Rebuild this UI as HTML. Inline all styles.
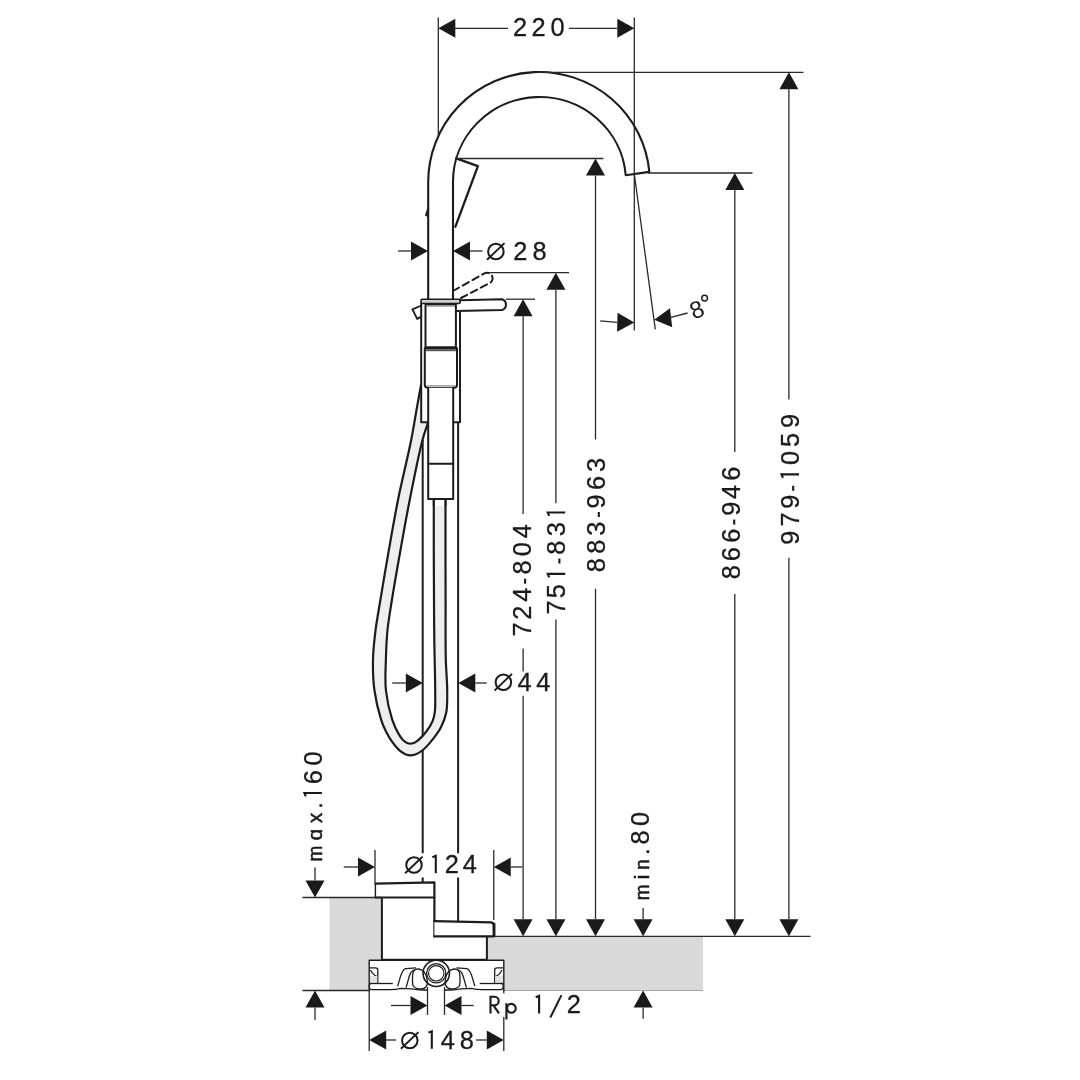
<!DOCTYPE html>
<html><head><meta charset="utf-8"><style>
html,body{margin:0;padding:0;background:#fff;width:1080px;height:1080px;overflow:hidden}
svg{display:block;will-change:transform}
text{font-family:"Liberation Sans",sans-serif;fill:#1a1a1a}
</style></head><body>
<svg width="1080" height="1080" viewBox="0 0 1080 1080">
<rect width="1080" height="1080" fill="#fff"/>
<rect x="329.5" y="897.5" width="52.3" height="93" fill="#d9d9d9"/>
<rect x="487.5" y="936.3" width="215.5" height="54.2" fill="#d9d9d9"/>
<rect x="360" y="960" width="140" height="30.5" fill="#d9d9d9"/>
<path d="M428.2,300 L428.2,182.0 A110.8,110.0 0 0 1 649.33,171.89 L625.72,175.21 A86.5,85.0 0 0 0 453,182.0 L453,300" fill="none" stroke="#1c1c1c" stroke-width="2.1" stroke-linejoin="round" stroke-linecap="round" />
<path d="M456.2,158.3 L477.9,166.2 L455.4,226.7" fill="none" stroke="#1c1c1c" stroke-width="2.3" stroke-linejoin="round" stroke-linecap="round" />
<polygon points="428.5,204.5 424.9,215.6 428.5,217.2" fill="#1c1c1c"/>
<line x1="422.70" y1="440.00" x2="422.70" y2="853.30" stroke="#1c1c1c" stroke-width="2.0" />
<line x1="458.10" y1="422.20" x2="458.10" y2="853.30" stroke="#1c1c1c" stroke-width="2.0" />
<path d="M421.20,384.00 C419.63,392.67 418.10,401.02 416.50,410.00 C414.78,419.64 413.52,428.31 411.20,440.00 C407.91,456.60 401.94,480.40 398.00,500.00 C394.24,518.70 391.22,536.66 388.00,555.00 C384.79,573.32 380.94,596.29 378.70,610.00 C377.36,618.18 376.49,622.37 375.60,629.60 C374.51,638.46 373.21,649.31 373.00,659.30 C372.79,669.44 373.04,679.92 374.40,690.00 C375.75,700.02 378.70,712.02 381.10,719.60 C382.66,724.54 384.11,727.73 386.00,731.50 C387.83,735.15 389.89,738.71 392.20,741.90 C394.41,744.96 396.71,748.06 399.50,750.30 C402.17,752.45 405.55,754.65 408.50,755.20 C411.04,755.67 413.59,755.07 416.00,754.20 C418.61,753.26 421.14,751.43 423.50,749.50 C426.07,747.40 428.20,744.97 430.70,741.90 C433.99,737.86 438.46,732.14 441.10,727.00 C443.55,722.22 445.24,717.72 446.30,712.20 C447.56,705.63 447.22,698.02 447.20,690.00 C447.18,680.53 446.09,670.99 445.80,659.00 C445.40,642.47 445.65,618.85 445.60,600.00 C445.55,582.64 445.52,566.75 445.50,550.00 C445.48,533.08 445.50,516.00 445.50,499.00 L433.8,499 433.80,499.00 C433.80,516.00 433.77,533.08 433.80,550.00 C433.83,566.75 433.91,584.26 434.00,600.00 C434.08,614.08 434.12,625.92 434.30,640.00 C434.50,655.74 435.20,676.67 435.20,690.00 C435.20,698.88 435.55,706.49 434.80,712.20 C434.32,715.87 433.84,718.11 432.60,721.10 C431.17,724.54 428.90,728.18 426.30,731.50 C423.44,735.15 418.74,740.04 415.90,741.90 C414.35,742.92 413.18,743.28 411.80,743.50 C410.48,743.71 409.13,743.75 407.80,743.30 C406.20,742.76 404.43,741.39 403.00,740.00 C401.44,738.48 400.30,736.80 398.90,734.40 C396.75,730.72 394.14,725.50 392.20,719.60 C389.55,711.54 386.95,700.01 385.90,690.00 C384.84,679.92 385.62,669.41 385.90,659.30 C386.17,649.42 386.52,639.80 387.50,630.00 C388.50,620.04 390.11,611.26 391.90,600.00 C394.22,585.44 397.53,566.66 400.50,550.00 C403.47,533.32 406.24,517.40 409.70,500.00 C413.50,480.89 418.76,454.04 422.50,440.00 C424.56,432.25 426.30,428.13 428.20,422.20 Z" fill="#eeeeee" stroke="none"/>
<path d="M421.20,384.00 C419.63,392.67 418.10,401.02 416.50,410.00 C414.78,419.64 413.52,428.31 411.20,440.00 C407.91,456.60 401.94,480.40 398.00,500.00 C394.24,518.70 391.22,536.66 388.00,555.00 C384.79,573.32 380.94,596.29 378.70,610.00 C377.36,618.18 376.49,622.37 375.60,629.60 C374.51,638.46 373.21,649.31 373.00,659.30 C372.79,669.44 373.04,679.92 374.40,690.00 C375.75,700.02 378.70,712.02 381.10,719.60 C382.66,724.54 384.11,727.73 386.00,731.50 C387.83,735.15 389.89,738.71 392.20,741.90 C394.41,744.96 396.71,748.06 399.50,750.30 C402.17,752.45 405.55,754.65 408.50,755.20 C411.04,755.67 413.59,755.07 416.00,754.20 C418.61,753.26 421.14,751.43 423.50,749.50 C426.07,747.40 428.20,744.97 430.70,741.90 C433.99,737.86 438.46,732.14 441.10,727.00 C443.55,722.22 445.24,717.72 446.30,712.20 C447.56,705.63 447.22,698.02 447.20,690.00 C447.18,680.53 446.09,670.99 445.80,659.00 C445.40,642.47 445.65,618.85 445.60,600.00 C445.55,582.64 445.52,566.75 445.50,550.00 C445.48,533.08 445.50,516.00 445.50,499.00" fill="none" stroke="#1c1c1c" stroke-width="2.2"/>
<path d="M428.20,422.20 C426.30,428.13 424.56,432.25 422.50,440.00 C418.76,454.04 413.50,480.89 409.70,500.00 C406.24,517.40 403.47,533.32 400.50,550.00 C397.53,566.66 394.22,585.44 391.90,600.00 C390.11,611.26 388.50,620.04 387.50,630.00 C386.52,639.80 386.17,649.42 385.90,659.30 C385.62,669.41 384.84,679.92 385.90,690.00 C386.95,700.01 389.55,711.54 392.20,719.60 C394.14,725.50 396.75,730.72 398.90,734.40 C400.30,736.80 401.44,738.48 403.00,740.00 C404.43,741.39 406.20,742.76 407.80,743.30 C409.13,743.75 410.48,743.71 411.80,743.50 C413.18,743.28 414.35,742.92 415.90,741.90 C418.74,740.04 423.44,735.15 426.30,731.50 C428.90,728.18 431.17,724.54 432.60,721.10 C433.84,718.11 434.32,715.87 434.80,712.20 C435.55,706.49 435.20,698.88 435.20,690.00 C435.20,676.67 434.50,655.74 434.30,640.00 C434.12,625.92 434.08,614.08 434.00,600.00 C433.91,584.26 433.83,566.75 433.80,550.00 C433.77,533.08 433.80,516.00 433.80,499.00" fill="none" stroke="#1c1c1c" stroke-width="2.2"/>
<rect x="421.2" y="303.3" width="38.8" height="118.9" fill="#fff"/>
<path d="M421.2,303.3 L421.2,422.2 L428.2,422.2" fill="none" stroke="#1c1c1c" stroke-width="2.0" stroke-linejoin="round" stroke-linecap="round" />
<path d="M460,312.8 L460,422.2 L453.1,422.2" fill="none" stroke="#1c1c1c" stroke-width="2.0" stroke-linejoin="round" stroke-linecap="round" />
<rect x="421.1" y="299.3" width="39" height="4.2" fill="#d0d0d0" stroke="#1c1c1c" stroke-width="1.6" rx="1"/>
<path d="M460,300.2 L502,299.3 A5.6,5.6 0 0 1 502,310 L456,311.1" fill="none" stroke="#1c1c1c" stroke-width="2.0" stroke-linejoin="round" stroke-linecap="round" />
<path d="M420.3,306 L412.4,309.4 L417.2,318.9 L420.3,317.2" fill="none" stroke="#1c1c1c" stroke-width="1.9" stroke-linejoin="round" stroke-linecap="round" />
<path d="M452.9,291 L484.4,273.3 A5.5,5.5 0 0 1 489.6,283.1 L459,299" fill="none" stroke="#1c1c1c" stroke-width="2.0" stroke-linejoin="round" stroke-linecap="round" stroke-dasharray="7,4.2"/>
<path d="M425.5,304.5 L455.9,304.5 L455.9,347.2 L425.5,347.2 Z" fill="none" stroke="#1c1c1c" stroke-width="2.0" stroke-linejoin="round" stroke-linecap="round" />
<line x1="426.5" y1="306" x2="455" y2="306" stroke="#999" stroke-width="1.5"/>
<path d="M424.8,348.3 L457,348.3 L457,384.8 Q457,387.8 454,387.8 L427.8,387.8 Q424.8,387.8 424.8,384.8 Z" fill="none" stroke="#1c1c1c" stroke-width="2.0" stroke-linejoin="round" stroke-linecap="round" />
<line x1="426" y1="350.2" x2="456" y2="350.2" stroke="#555" stroke-width="2"/>
<line x1="427" y1="385.6" x2="455" y2="385.6" stroke="#aaa" stroke-width="1.2"/>
<rect x="428.2" y="387.8" width="25" height="111.2" fill="#fff"/>
<path d="M428.2,387.8 L428.2,499 L453.2,499 L453.2,387.8" fill="none" stroke="#1c1c1c" stroke-width="2.0" stroke-linejoin="round" stroke-linecap="round" />
<path d="M428.2,463.7 L453.2,463.7" fill="none" stroke="#1c1c1c" stroke-width="2.0" stroke-linejoin="round" stroke-linecap="round" />
<rect x="434.8" y="500" width="9.6" height="6" fill="#fff"/>
<line x1="433.80" y1="499.00" x2="433.80" y2="506.00" stroke="#1c1c1c" stroke-width="2.0" />
<line x1="445.50" y1="499.00" x2="445.50" y2="506.00" stroke="#1c1c1c" stroke-width="2.0" />
<rect x="369" y="960" width="135" height="30.5" fill="#fff"/>
<g stroke="#1c1c1c" stroke-width="1.3"><path d="M369.2,967.8 L375.5,967.8 Q377.8,967.8 377.8,970 L377.8,983.5" fill="none"/><path d="M370.5,970 Q373,975 377,976.5" fill="none"/><rect x="369.8" y="976" width="7.5" height="7" fill="#e2e2e2" stroke="none"/><path d="M369.2,983.5 L392.8,983.5" fill="none"/><path d="M371,983.5 Q369.2,983.5 369.2,986.5 Q369.2,989.7 372,989.7 L390,989.7 Q396,989.7 401,988.3 L412,988.8 Q418,990 428,990" fill="none"/><path d="M397.6,986.2 C400,980 401,969.5 405.5,968.6 L416,967.8" fill="none"/><path d="M406,987.6 C408,982 409,975 411,972.5 C412,971 413,970 414.5,969.8" fill="none"/><path d="M412.9,985.6 C412,980 412.5,972 414,970.5 C415.5,969 419,968.8 421.5,969.8 C425,971.5 427,977 427.5,982 C427.8,986 425,989 421,989 C417,989 414.5,987.5 412.9,985.6" fill="none"/></g>
<g stroke="#1c1c1c" stroke-width="1.3" transform="translate(872.5,0) scale(-1,1)"><path d="M369.2,967.8 L375.5,967.8 Q377.8,967.8 377.8,970 L377.8,983.5" fill="none"/><path d="M370.5,970 Q373,975 377,976.5" fill="none"/><rect x="369.8" y="976" width="7.5" height="7" fill="#e2e2e2" stroke="none"/><path d="M369.2,983.5 L392.8,983.5" fill="none"/><path d="M371,983.5 Q369.2,983.5 369.2,986.5 Q369.2,989.7 372,989.7 L390,989.7 Q396,989.7 401,988.3 L412,988.8 Q418,990 428,990" fill="none"/><path d="M397.6,986.2 C400,980 401,969.5 405.5,968.6 L416,967.8" fill="none"/><path d="M406,987.6 C408,982 409,975 411,972.5 C412,971 413,970 414.5,969.8" fill="none"/><path d="M412.9,985.6 C412,980 412.5,972 414,970.5 C415.5,969 419,968.8 421.5,969.8 C425,971.5 427,977 427.5,982 C427.8,986 425,989 421,989 C417,989 414.5,987.5 412.9,985.6" fill="none"/></g>
<path d="M369.2,991 L369.2,960.2 L503.8,960.2 L503.8,991" fill="none" stroke="#1c1c1c" stroke-width="1.4" stroke-linejoin="round" stroke-linecap="round" />
<circle cx="436.25" cy="973.3" r="13.2" fill="none" stroke="#1c1c1c" stroke-width="1.6"/>
<circle cx="436.25" cy="973.3" r="9.6" fill="none" stroke="#1c1c1c" stroke-width="1.3"/>
<circle cx="436.25" cy="973.3" r="7.7" fill="none" stroke="#1c1c1c" stroke-width="1.1"/>
<rect x="381.9" y="897.5" width="105" height="62.2" fill="#fff"/>
<path d="M381.9,897.5 L381.9,959.7 L486.9,959.7 L486.9,936.4" fill="none" stroke="#1c1c1c" stroke-width="2.0" stroke-linejoin="round" stroke-linecap="round" />
<rect x="375.4" y="883" width="59" height="14.5" fill="#fff"/>
<path d="M375.4,897.5 L375.4,883.6" fill="none" stroke="#1c1c1c" stroke-width="1.4" stroke-linejoin="round" stroke-linecap="round" />
<path d="M375.4,883.6 L434.4,882.3 L434.4,936.4" fill="none" stroke="#1c1c1c" stroke-width="2.2" stroke-linejoin="round" stroke-linecap="round" />
<path d="M375.4,897.5 L434.4,897.5" fill="none" stroke="#1c1c1c" stroke-width="1.8" stroke-linejoin="round" stroke-linecap="round" />
<rect x="434.4" y="921.5" width="59.6" height="15" fill="#fff"/>
<path d="M434.4,921.2 L491,922.3 Q494,922.6 494,925.5 L494,936.4 L434.4,936.4" fill="none" stroke="#1c1c1c" stroke-width="2.2" stroke-linejoin="round" stroke-linecap="round" />
<line x1="494.00" y1="923.00" x2="494.00" y2="936.00" stroke="#1c1c1c" stroke-width="2.8" />
<line x1="422.70" y1="877.50" x2="422.70" y2="882.30" stroke="#1c1c1c" stroke-width="2.0" />
<line x1="458.10" y1="877.50" x2="458.10" y2="921.20" stroke="#1c1c1c" stroke-width="2.0" />
<line x1="438.30" y1="17.50" x2="438.30" y2="135.50" stroke="#2a2a2a" stroke-width="1.3" />
<line x1="634.30" y1="17.50" x2="634.30" y2="330.60" stroke="#2a2a2a" stroke-width="1.3" />
<polygon points="438.30,28.30 455.30,18.80 455.30,37.80" fill="#1a1a1a"/>
<polygon points="634.30,28.30 617.30,37.80 617.30,18.80" fill="#1a1a1a"/>
<line x1="455.00" y1="28.30" x2="508.00" y2="28.30" stroke="#2a2a2a" stroke-width="1.3" />
<line x1="569.00" y1="28.30" x2="617.00" y2="28.30" stroke="#2a2a2a" stroke-width="1.3" />
<text transform="translate(520.00,35.90)" x="-7.06" y="0" font-size="25.4" stroke="#1a1a1a" stroke-width="0.3">2</text>
<text transform="translate(538.55,35.90)" x="-7.06" y="0" font-size="25.4" stroke="#1a1a1a" stroke-width="0.3">2</text>
<text transform="translate(557.60,35.90)" x="-7.06" y="0" font-size="25.4" stroke="#1a1a1a" stroke-width="0.3">0</text>
<line x1="538.00" y1="72.30" x2="803.50" y2="72.30" stroke="#2a2a2a" stroke-width="1.3" />
<line x1="647.70" y1="173.00" x2="752.50" y2="173.00" stroke="#2a2a2a" stroke-width="1.3" />
<line x1="456.00" y1="158.50" x2="603.40" y2="158.50" stroke="#2a2a2a" stroke-width="1.3" />
<line x1="488.50" y1="272.70" x2="569.00" y2="272.70" stroke="#2a2a2a" stroke-width="1.3" />
<line x1="506.00" y1="299.20" x2="535.00" y2="299.20" stroke="#2a2a2a" stroke-width="1.3" />
<polygon points="788.90,72.30 798.40,89.30 779.40,89.30" fill="#1a1a1a"/>
<line x1="788.90" y1="89.30" x2="788.90" y2="399.60" stroke="#2a2a2a" stroke-width="1.3" />
<line x1="788.90" y1="557.80" x2="788.90" y2="919.30" stroke="#2a2a2a" stroke-width="1.3" />
<polygon points="788.90,936.30 779.40,919.30 798.40,919.30" fill="#1a1a1a"/>
<polygon points="734.80,173.00 744.30,190.00 725.30,190.00" fill="#1a1a1a"/>
<line x1="734.80" y1="190.00" x2="734.80" y2="451.90" stroke="#2a2a2a" stroke-width="1.3" />
<line x1="734.80" y1="594.10" x2="734.80" y2="919.30" stroke="#2a2a2a" stroke-width="1.3" />
<polygon points="734.80,936.30 725.30,919.30 744.30,919.30" fill="#1a1a1a"/>
<polygon points="595.50,158.50 605.00,175.50 586.00,175.50" fill="#1a1a1a"/>
<line x1="595.50" y1="175.50" x2="595.50" y2="439.40" stroke="#2a2a2a" stroke-width="1.3" />
<line x1="595.50" y1="588.80" x2="595.50" y2="919.30" stroke="#2a2a2a" stroke-width="1.3" />
<polygon points="595.50,936.30 586.00,919.30 605.00,919.30" fill="#1a1a1a"/>
<polygon points="555.90,272.70 565.40,289.70 546.40,289.70" fill="#1a1a1a"/>
<line x1="555.90" y1="289.70" x2="555.90" y2="503.30" stroke="#2a2a2a" stroke-width="1.3" />
<line x1="555.90" y1="619.40" x2="555.90" y2="919.30" stroke="#2a2a2a" stroke-width="1.3" />
<polygon points="555.90,936.30 546.40,919.30 565.40,919.30" fill="#1a1a1a"/>
<polygon points="523.10,299.20 532.60,316.20 513.60,316.20" fill="#1a1a1a"/>
<line x1="523.10" y1="316.20" x2="523.10" y2="513.90" stroke="#2a2a2a" stroke-width="1.3" />
<line x1="523.10" y1="648.50" x2="523.10" y2="671.60" stroke="#2a2a2a" stroke-width="1.3" />
<line x1="523.10" y1="695.70" x2="523.10" y2="919.30" stroke="#2a2a2a" stroke-width="1.3" />
<polygon points="523.10,936.30 513.60,919.30 532.60,919.30" fill="#1a1a1a"/>
<text transform="translate(530.90,629.50) rotate(-90)" x="-7.08" y="0" font-size="25.4" stroke="#1a1a1a" stroke-width="0.3">7</text>
<text transform="translate(530.90,612.70) rotate(-90)" x="-7.06" y="0" font-size="25.4" stroke="#1a1a1a" stroke-width="0.3">2</text>
<text transform="translate(530.90,594.90) rotate(-90)" x="-6.98" y="0" font-size="25.4" stroke="#1a1a1a" stroke-width="0.3">4</text>
<path transform="translate(530.90,581.20) rotate(-90)" d="M-2.5,-5.8 L2.5,-5.8" fill="none" stroke="#1a1a1a" stroke-width="2.1"/>
<text transform="translate(530.90,567.40) rotate(-90)" x="-7.06" y="0" font-size="25.4" stroke="#1a1a1a" stroke-width="0.3">8</text>
<text transform="translate(530.90,549.30) rotate(-90)" x="-7.06" y="0" font-size="25.4" stroke="#1a1a1a" stroke-width="0.3">0</text>
<text transform="translate(530.90,531.20) rotate(-90)" x="-6.98" y="0" font-size="25.4" stroke="#1a1a1a" stroke-width="0.3">4</text>
<text transform="translate(565.20,607.50) rotate(-90)" x="-7.08" y="0" font-size="25.4" stroke="#1a1a1a" stroke-width="0.3">7</text>
<text transform="translate(565.20,591.25) rotate(-90)" x="-7.04" y="0" font-size="25.4" stroke="#1a1a1a" stroke-width="0.3">5</text>
<path transform="translate(565.20,573.90) rotate(-90)" d="M0,0 L0,-17.47 L-3.4,-16.07" fill="none" stroke="#1a1a1a" stroke-width="2.1" stroke-linejoin="miter"/>
<path transform="translate(565.20,561.00) rotate(-90)" d="M-2.5,-5.8 L2.5,-5.8" fill="none" stroke="#1a1a1a" stroke-width="2.1"/>
<text transform="translate(565.20,547.65) rotate(-90)" x="-7.06" y="0" font-size="25.4" stroke="#1a1a1a" stroke-width="0.3">8</text>
<text transform="translate(565.20,529.20) rotate(-90)" x="-6.99" y="0" font-size="25.4" stroke="#1a1a1a" stroke-width="0.3">3</text>
<path transform="translate(565.20,512.50) rotate(-90)" d="M0,0 L0,-17.47 L-3.4,-16.07" fill="none" stroke="#1a1a1a" stroke-width="2.1" stroke-linejoin="miter"/>
<text transform="translate(604.60,565.10) rotate(-90)" x="-7.06" y="0" font-size="25.4" stroke="#1a1a1a" stroke-width="0.3">8</text>
<text transform="translate(604.60,546.70) rotate(-90)" x="-7.06" y="0" font-size="25.4" stroke="#1a1a1a" stroke-width="0.3">8</text>
<text transform="translate(604.60,528.70) rotate(-90)" x="-6.99" y="0" font-size="25.4" stroke="#1a1a1a" stroke-width="0.3">3</text>
<path transform="translate(604.60,514.50) rotate(-90)" d="M-2.5,-5.8 L2.5,-5.8" fill="none" stroke="#1a1a1a" stroke-width="2.1"/>
<text transform="translate(604.60,501.50) rotate(-90)" x="-7.06" y="0" font-size="25.4" stroke="#1a1a1a" stroke-width="0.3">9</text>
<text transform="translate(604.60,482.90) rotate(-90)" x="-7.15" y="0" font-size="25.4" stroke="#1a1a1a" stroke-width="0.3">6</text>
<text transform="translate(604.60,465.00) rotate(-90)" x="-6.99" y="0" font-size="25.4" stroke="#1a1a1a" stroke-width="0.3">3</text>
<text transform="translate(740.00,572.20) rotate(-90)" x="-7.06" y="0" font-size="25.4" stroke="#1a1a1a" stroke-width="0.3">8</text>
<text transform="translate(740.00,554.00) rotate(-90)" x="-7.15" y="0" font-size="25.4" stroke="#1a1a1a" stroke-width="0.3">6</text>
<text transform="translate(740.00,535.55) rotate(-90)" x="-7.15" y="0" font-size="25.4" stroke="#1a1a1a" stroke-width="0.3">6</text>
<path transform="translate(740.00,522.10) rotate(-90)" d="M-2.5,-5.8 L2.5,-5.8" fill="none" stroke="#1a1a1a" stroke-width="2.1"/>
<text transform="translate(740.00,508.80) rotate(-90)" x="-7.06" y="0" font-size="25.4" stroke="#1a1a1a" stroke-width="0.3">9</text>
<text transform="translate(740.00,492.10) rotate(-90)" x="-6.98" y="0" font-size="25.4" stroke="#1a1a1a" stroke-width="0.3">4</text>
<text transform="translate(740.00,473.65) rotate(-90)" x="-7.15" y="0" font-size="25.4" stroke="#1a1a1a" stroke-width="0.3">6</text>
<text transform="translate(799.00,537.60) rotate(-90)" x="-7.06" y="0" font-size="25.4" stroke="#1a1a1a" stroke-width="0.3">9</text>
<text transform="translate(799.00,519.50) rotate(-90)" x="-7.08" y="0" font-size="25.4" stroke="#1a1a1a" stroke-width="0.3">7</text>
<text transform="translate(799.00,501.60) rotate(-90)" x="-7.06" y="0" font-size="25.4" stroke="#1a1a1a" stroke-width="0.3">9</text>
<path transform="translate(799.00,488.30) rotate(-90)" d="M-2.5,-5.8 L2.5,-5.8" fill="none" stroke="#1a1a1a" stroke-width="2.1"/>
<path transform="translate(799.00,474.40) rotate(-90)" d="M0,0 L0,-17.47 L-3.4,-16.07" fill="none" stroke="#1a1a1a" stroke-width="2.1" stroke-linejoin="miter"/>
<text transform="translate(799.00,457.90) rotate(-90)" x="-7.06" y="0" font-size="25.4" stroke="#1a1a1a" stroke-width="0.3">0</text>
<text transform="translate(799.00,439.95) rotate(-90)" x="-7.04" y="0" font-size="25.4" stroke="#1a1a1a" stroke-width="0.3">5</text>
<text transform="translate(799.00,420.90) rotate(-90)" x="-7.06" y="0" font-size="25.4" stroke="#1a1a1a" stroke-width="0.3">9</text>
<line x1="504.00" y1="990.50" x2="703.00" y2="990.50" stroke="#a8a8a8" stroke-width="1.0" />
<line x1="495.00" y1="936.30" x2="810.60" y2="936.30" stroke="#2a2a2a" stroke-width="1.3" />
<line x1="302.50" y1="897.50" x2="381.80" y2="897.50" stroke="#2a2a2a" stroke-width="1.3" />
<line x1="302.50" y1="990.50" x2="369.00" y2="990.50" stroke="#2a2a2a" stroke-width="1.3" />
<polygon points="643.10,936.30 633.60,919.30 652.60,919.30" fill="#1a1a1a"/>
<line x1="643.10" y1="908.00" x2="643.10" y2="919.30" stroke="#2a2a2a" stroke-width="1.3" />
<text transform="translate(648.50,892.25) rotate(-90) scale(0.93,1)" x="-8.50" y="0" font-size="20.4" stroke="#1a1a1a" stroke-width="0.55">m</text>
<text transform="translate(648.50,876.90) rotate(-90) scale(1.0,1)" x="-2.26" y="0" font-size="20.4" stroke="#1a1a1a" stroke-width="0.55">i</text>
<text transform="translate(648.50,864.45) rotate(-90) scale(0.92,1)" x="-5.69" y="0" font-size="20.4" stroke="#1a1a1a" stroke-width="0.55">n</text>
<text transform="translate(648.50,851.60) rotate(-90) scale(1.0,1)" x="-2.83" y="0" font-size="20.4" stroke="#1a1a1a" stroke-width="0.55">.</text>
<text transform="translate(648.50,837.40) rotate(-90)" x="-7.06" y="0" font-size="25.4" stroke="#1a1a1a" stroke-width="0.3">8</text>
<text transform="translate(648.50,819.00) rotate(-90)" x="-7.06" y="0" font-size="25.4" stroke="#1a1a1a" stroke-width="0.3">0</text>
<polygon points="643.10,990.50 652.60,1007.50 633.60,1007.50" fill="#1a1a1a"/>
<line x1="643.10" y1="1007.50" x2="643.10" y2="1018.80" stroke="#2a2a2a" stroke-width="1.3" />
<polygon points="315.00,897.50 305.50,880.50 324.50,880.50" fill="#1a1a1a"/>
<line x1="315.00" y1="867.50" x2="315.00" y2="880.50" stroke="#2a2a2a" stroke-width="1.3" />
<text transform="translate(321.90,853.70) rotate(-90) scale(0.93,1)" x="-8.50" y="0" font-size="20.4" stroke="#1a1a1a" stroke-width="0.55">m</text>
<text transform="translate(321.90,834.70) rotate(-90) scale(1.0,1)" x="-5.44" y="0" font-size="20.4" stroke="#1a1a1a" stroke-width="0.55">ɑ</text>
<text transform="translate(321.90,818.00) rotate(-90) scale(1.0,1)" x="-5.10" y="0" font-size="20.4" stroke="#1a1a1a" stroke-width="0.55">x</text>
<text transform="translate(321.90,805.50) rotate(-90) scale(1.0,1)" x="-2.83" y="0" font-size="20.4" stroke="#1a1a1a" stroke-width="0.55">.</text>
<path transform="translate(321.90,793.00) rotate(-90)" d="M0,0 L0,-17.47 L-3.4,-16.07" fill="none" stroke="#1a1a1a" stroke-width="2.1" stroke-linejoin="miter"/>
<text transform="translate(321.90,777.00) rotate(-90)" x="-7.15" y="0" font-size="25.4" stroke="#1a1a1a" stroke-width="0.3">6</text>
<text transform="translate(321.90,758.40) rotate(-90)" x="-7.06" y="0" font-size="25.4" stroke="#1a1a1a" stroke-width="0.3">0</text>
<polygon points="315.00,990.50 324.50,1007.50 305.50,1007.50" fill="#1a1a1a"/>
<line x1="315.00" y1="1007.50" x2="315.00" y2="1020.00" stroke="#2a2a2a" stroke-width="1.3" />
<polygon points="428.00,251.00 411.00,260.50 411.00,241.50" fill="#1a1a1a"/>
<line x1="398.00" y1="251.00" x2="411.00" y2="251.00" stroke="#2a2a2a" stroke-width="1.3" />
<polygon points="453.00,251.00 470.00,241.50 470.00,260.50" fill="#1a1a1a"/>
<line x1="470.00" y1="251.00" x2="482.50" y2="251.00" stroke="#2a2a2a" stroke-width="1.3" />
<circle cx="495.9" cy="251.5" r="7.75" fill="none" stroke="#1a1a1a" stroke-width="2.0"/>
<line x1="487.00" y1="259.80" x2="504.50" y2="243.10" stroke="#1a1a1a" stroke-width="1.9"/>
<text transform="translate(520.35,259.80)" x="-7.06" y="0" font-size="25.4" stroke="#1a1a1a" stroke-width="0.3">2</text>
<text transform="translate(539.65,259.80)" x="-7.06" y="0" font-size="25.4" stroke="#1a1a1a" stroke-width="0.3">8</text>
<polygon points="422.80,683.00 405.80,692.50 405.80,673.50" fill="#1a1a1a"/>
<line x1="392.20" y1="683.00" x2="405.80" y2="683.00" stroke="#2a2a2a" stroke-width="1.3" />
<polygon points="458.30,683.00 475.30,673.50 475.30,692.50" fill="#1a1a1a"/>
<line x1="475.30" y1="683.00" x2="486.70" y2="683.00" stroke="#2a2a2a" stroke-width="1.3" />
<circle cx="503.4" cy="682.3" r="7.75" fill="none" stroke="#1a1a1a" stroke-width="2.0"/>
<line x1="494.50" y1="690.60" x2="512.00" y2="673.90" stroke="#1a1a1a" stroke-width="1.9"/>
<text transform="translate(524.50,690.60)" x="-6.98" y="0" font-size="25.4" stroke="#1a1a1a" stroke-width="0.3">4</text>
<text transform="translate(543.15,690.60)" x="-6.98" y="0" font-size="25.4" stroke="#1a1a1a" stroke-width="0.3">4</text>
<line x1="375.00" y1="850.00" x2="375.00" y2="883.00" stroke="#2a2a2a" stroke-width="1.3" />
<line x1="493.75" y1="850.00" x2="493.75" y2="920.00" stroke="#2a2a2a" stroke-width="1.3" />
<polygon points="375.00,867.00 358.00,876.50 358.00,857.50" fill="#1a1a1a"/>
<line x1="343.75" y1="867.00" x2="358.00" y2="867.00" stroke="#2a2a2a" stroke-width="1.3" />
<polygon points="493.75,867.00 510.75,857.50 510.75,876.50" fill="#1a1a1a"/>
<line x1="510.75" y1="867.00" x2="522.50" y2="867.00" stroke="#2a2a2a" stroke-width="1.3" />
<circle cx="414" cy="865" r="7.75" fill="none" stroke="#1a1a1a" stroke-width="2.0"/>
<line x1="405.10" y1="873.30" x2="422.60" y2="856.60" stroke="#1a1a1a" stroke-width="1.9"/>
<path transform="translate(435.80,873.30)" d="M0,0 L0,-17.47 L-3.4,-16.07" fill="none" stroke="#1a1a1a" stroke-width="2.1" stroke-linejoin="miter"/>
<text transform="translate(451.70,873.30)" x="-7.06" y="0" font-size="25.4" stroke="#1a1a1a" stroke-width="0.3">2</text>
<text transform="translate(469.80,873.30)" x="-6.98" y="0" font-size="25.4" stroke="#1a1a1a" stroke-width="0.3">4</text>
<line x1="427.50" y1="987.00" x2="427.50" y2="1015.00" stroke="#2a2a2a" stroke-width="1.3" />
<line x1="444.50" y1="987.00" x2="444.50" y2="1015.00" stroke="#2a2a2a" stroke-width="1.3" />
<polygon points="427.50,1005.50 410.50,1015.00 410.50,996.00" fill="#1a1a1a"/>
<line x1="391.00" y1="1005.50" x2="410.50" y2="1005.50" stroke="#2a2a2a" stroke-width="1.3" />
<polygon points="444.50,1005.50 461.50,996.00 461.50,1015.00" fill="#1a1a1a"/>
<line x1="461.50" y1="1005.50" x2="473.75" y2="1005.50" stroke="#2a2a2a" stroke-width="1.3" />
<path transform="translate(494.55,1013.40)" d="M-4.05,0 L-4.05,-16.7 L-0.05,-16.7 A4.25,4.25 0 0 1 -0.05,-8.2 L-4.05,-8.2 M-1.25,-8.2 L4.45,0" fill="none" stroke="#1a1a1a" stroke-width="2.1"/>
<path transform="translate(510.60,1013.40)" d="M-4.2,-10.3 L-4.2,6" fill="none" stroke="#1a1a1a" stroke-width="2.1"/><circle transform="translate(510.60,1013.40)" cx="0.8" cy="-5.1" r="4.4" fill="none" stroke="#1a1a1a" stroke-width="2.1"/>
<path transform="translate(539.10,1013.40)" d="M0,0 L0,-17.47 L-3.4,-16.07" fill="none" stroke="#1a1a1a" stroke-width="2.1" stroke-linejoin="miter"/>
<text transform="translate(573.70,1013.40)" x="-7.06" y="0" font-size="25.4" stroke="#1a1a1a" stroke-width="0.3">2</text>
<line x1="550.30" y1="1017.50" x2="561.50" y2="995.10" stroke="#1a1a1a" stroke-width="2.0" />
<line x1="369.20" y1="990.00" x2="369.20" y2="1051.00" stroke="#2a2a2a" stroke-width="1.3" />
<line x1="503.80" y1="990.00" x2="503.80" y2="993.50" stroke="#2a2a2a" stroke-width="1.3" />
<line x1="503.80" y1="1017.00" x2="503.80" y2="1051.00" stroke="#2a2a2a" stroke-width="1.3" />
<polygon points="369.20,1040.00 386.20,1030.50 386.20,1049.50" fill="#1a1a1a"/>
<polygon points="503.80,1040.00 486.80,1049.50 486.80,1030.50" fill="#1a1a1a"/>
<line x1="386.00" y1="1040.00" x2="396.00" y2="1040.00" stroke="#2a2a2a" stroke-width="1.3" />
<line x1="476.00" y1="1040.00" x2="487.50" y2="1040.00" stroke="#2a2a2a" stroke-width="1.3" />
<circle cx="409.8" cy="1040.5" r="7.75" fill="none" stroke="#1a1a1a" stroke-width="2.0"/>
<line x1="400.90" y1="1048.80" x2="418.40" y2="1032.10" stroke="#1a1a1a" stroke-width="1.9"/>
<path transform="translate(431.80,1048.70)" d="M0,0 L0,-17.47 L-3.4,-16.07" fill="none" stroke="#1a1a1a" stroke-width="2.1" stroke-linejoin="miter"/>
<text transform="translate(447.70,1048.70)" x="-6.98" y="0" font-size="25.4" stroke="#1a1a1a" stroke-width="0.3">4</text>
<text transform="translate(466.70,1048.70)" x="-7.06" y="0" font-size="25.4" stroke="#1a1a1a" stroke-width="0.3">8</text>
<line x1="634.30" y1="174.00" x2="655.30" y2="329.30" stroke="#2a2a2a" stroke-width="1.3" />
<polygon points="634.30,322.60 617.11,331.76 617.49,312.76" fill="#1a1a1a"/>
<line x1="600.20" y1="320.90" x2="617.00" y2="322.30" stroke="#2a2a2a" stroke-width="1.3" />
<polygon points="654.20,319.80 669.95,308.35 672.21,327.22" fill="#1a1a1a"/>
<line x1="669.00" y1="317.80" x2="687.60" y2="313.00" stroke="#2a2a2a" stroke-width="1.3" />
<text transform="translate(697,309.6) rotate(-22)" x="-6.8" y="8.3" font-size="24">8</text>
<circle cx="704.6" cy="298.1" r="2.9" fill="none" stroke="#1a1a1a" stroke-width="1.4"/>
</svg></body></html>
